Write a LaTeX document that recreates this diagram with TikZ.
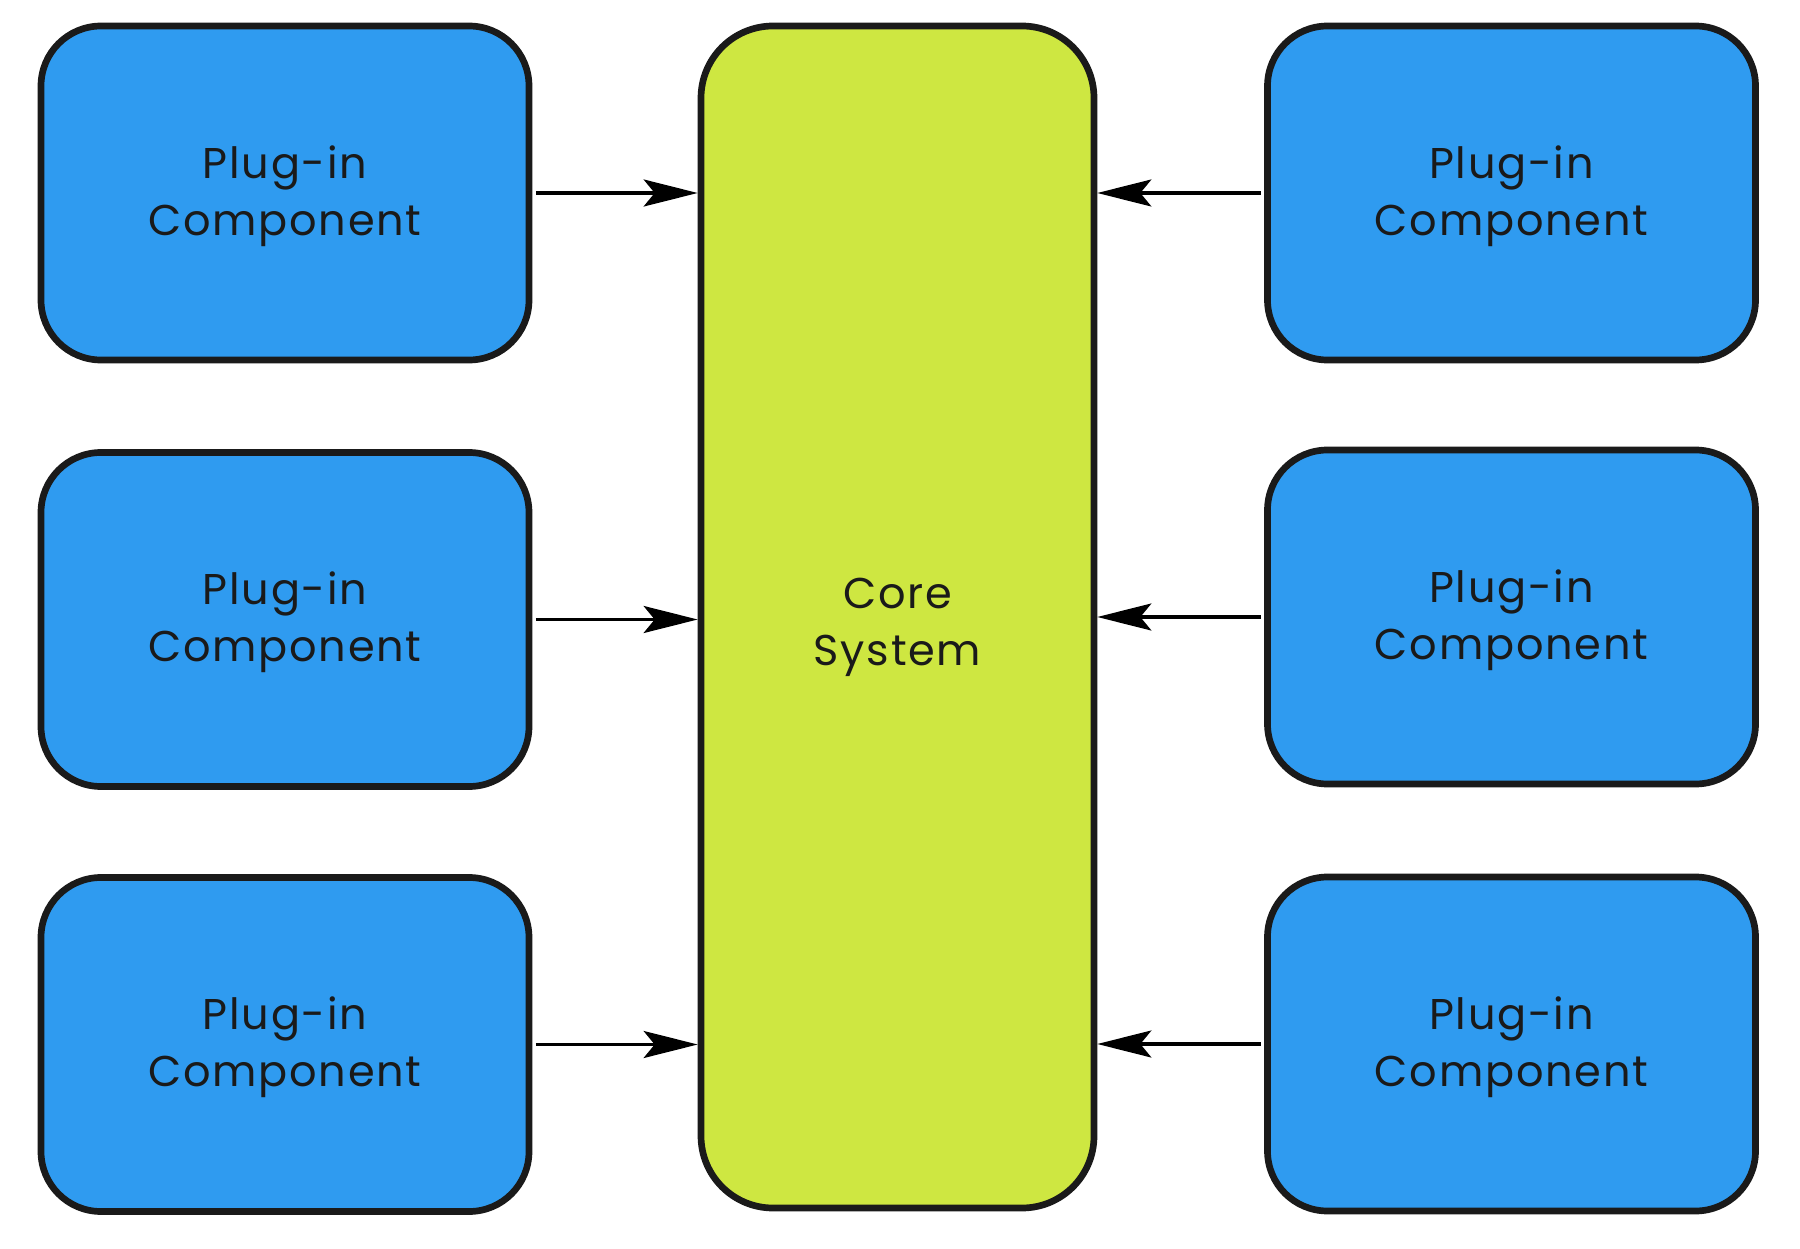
\documentclass[tikz,border=0pt]{standalone}
\usepackage{fontspec}
\setmainfont[LetterSpace=4]{Poppins}
\usetikzlibrary{arrows.meta}

\definecolor{plugblue}{HTML}{2F9BF0}
\definecolor{corelime}{HTML}{CEE741}
\definecolor{edgeblack}{HTML}{1A1A1A}

\begin{document}
\begin{tikzpicture}[
		plugin/.style={draw=edgeblack, line width=3.8pt, fill=plugblue,
			rounded corners=1.2cm, minimum width=9.76cm, minimum height=6.68cm,
			align=center, text=edgeblack, font=\fontsize{24.5}{32.5}\selectfont,
			text height=1.91cm},
		core/.style={draw=edgeblack, line width=3.8pt, fill=corelime,
			rounded corners=1.44cm, minimum width=7.86cm, minimum height=23.64cm,
			align=center, text=edgeblack, font=\fontsize{24.5}{32.5}\selectfont,
			text height=2.15cm},
		feed/.style={line width=1.8pt, -{Stealth[length=1.08cm, width=0.54cm, inset=0.22cm]},
			shorten <=0.07cm}
	]
	\useasboundingbox (0,0) rectangle (36,-24.98);
	
	\node[core] (core) at (17.95,-12.34) {Core\\System};
	
	% left column
	\node[plugin] (l1) at (5.70,-3.86) {Plug-in\\Component};
	\node[plugin] (l2) at (5.70,-12.39) {Plug-in\\Component};
	\node[plugin] (l3) at (5.70,-20.89) {Plug-in\\Component};
	
	% right column
	\node[plugin] (r1) at (30.23,-3.86) {Plug-in\\Component};
	\node[plugin] (r2) at (30.23,-12.34) {Plug-in\\Component};
	\node[plugin] (r3) at (30.23,-20.88) {Plug-in\\Component};
	
	\draw[feed] (l1.east) -- (l1.east -| core.west);
	\draw[feed] (l2.east) -- (l2.east -| core.west);
	\draw[feed] (l3.east) -- (l3.east -| core.west);
	
	\draw[feed] (r1.west) -- (r1.west -| core.east);
	\draw[feed] (r2.west) -- (r2.west -| core.east);
	\draw[feed] (r3.west) -- (r3.west -| core.east);
	
\end{tikzpicture}
\end{document}
